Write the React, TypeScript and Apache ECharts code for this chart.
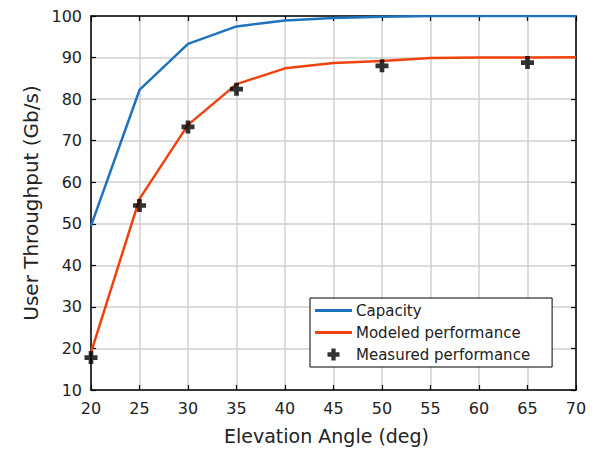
import React, { useEffect, useRef } from "react";
import * as echarts from "echarts";

const angles = [20, 25, 30, 35, 40, 45, 50, 55, 60, 65, 70];
const capacity = [49.5, 82.2, 93.3, 97.5, 98.9, 99.5, 99.8, 100, 100, 100, 100];
const modeled = [19.0, 56.0, 73.8, 83.6, 87.4, 88.7, 89.2, 89.9, 90.0, 90.0, 90.1];
const measuredAngles = [20, 25, 30, 35, 50, 65];
const measuredValues = [17.8, 54.4, 73.3, 82.4, 88.0, 88.8];

const plusPath =
  "path://M32,0 L68,0 L68,32 L100,32 L100,68 L68,68 L68,100 L32,100 L32,68 L0,68 L0,32 L32,32 Z";
const lineIcon = "path://M0,0 L37,0 L37,3 L0,3 Z";

const FONT = "DejaVu Sans, Arial, sans-serif";

export default function App() {
  const ref = useRef<HTMLDivElement>(null);
  useEffect(() => {
    if (!ref.current) return;
    const chart = echarts.init(ref.current, undefined, { renderer: "svg" });
    const txt = { color: "#222", fontFamily: FONT };
    chart.setOption({
      animation: false,
      backgroundColor: "#fff",
      textStyle: { fontFamily: FONT },
      grid: { left: 91, right: 17, top: 16, bottom: 57 },
      legend: {
        orient: "vertical",
        left: 310,
        top: 298,
        backgroundColor: "#fff",
        borderColor: "#000",
        borderWidth: 1,
        borderRadius: 0,
        padding: [5, 22, 5, 5],
        itemGap: 7,
        itemWidth: 37,
        itemHeight: 12,
        textStyle: { ...txt, fontSize: 15, padding: [0, 0, 0, -1] },
        data: [
          { name: "Capacity", icon: lineIcon, itemStyle: { color: "#1f72bd" } },
          { name: "Modeled performance", icon: lineIcon, itemStyle: { color: "#f0420f" } },
          { name: "Measured performance" },
        ],
      },
      xAxis: [
        {
          type: "value",
          min: 20,
          max: 70,
          interval: 5,
          name: "Elevation Angle (deg)",
          nameLocation: "middle",
          nameGap: 36,
          nameTextStyle: { ...txt, fontSize: 19, padding: [0, 14, 0, 0] },
          axisLine: { show: true, lineStyle: { color: "#000", width: 1.5 } },
          axisTick: { show: true, inside: true, length: 5, lineStyle: { color: "#000", width: 1.2 } },
          axisLabel: { ...txt, fontSize: 16, margin: 10 },
          splitLine: { show: true, lineStyle: { color: "#d0d0d0", width: 1.5 } },
        },
        {
          type: "value",
          position: "top",
          min: 20,
          max: 70,
          interval: 5,
          axisLine: { show: true, lineStyle: { color: "#000", width: 1.5 } },
          axisTick: { show: true, inside: true, length: 5, lineStyle: { color: "#000", width: 1.2 } },
          axisLabel: { show: false },
          splitLine: { show: false },
        },
      ],
      yAxis: [
        {
          type: "value",
          min: 10,
          max: 100,
          interval: 10,
          name: "User Throughput (Gb/s)",
          nameLocation: "middle",
          nameGap: 49,
          nameTextStyle: { ...txt, fontSize: 20 },
          axisLine: { show: true, lineStyle: { color: "#000", width: 1.5 } },
          axisTick: { show: true, inside: true, length: 5, lineStyle: { color: "#000", width: 1.2 } },
          axisLabel: { ...txt, fontSize: 16, margin: 9 },
          splitLine: { show: true, lineStyle: { color: "#d0d0d0", width: 1.5 } },
        },
        {
          type: "value",
          position: "right",
          min: 10,
          max: 100,
          interval: 10,
          axisLine: { show: true, lineStyle: { color: "#000", width: 1.5 } },
          axisTick: { show: true, inside: true, length: 5, lineStyle: { color: "#000", width: 1.2 } },
          axisLabel: { show: false },
          splitLine: { show: false },
        },
      ],
      series: [
        {
          name: "Capacity",
          type: "line",
          symbol: "none",
          color: "#1f72bd",
          lineStyle: { color: "#1f72bd", width: 2.5 },
          data: angles.map((a, i) => [a, capacity[i]]),
          z: 3,
        },
        {
          name: "Modeled performance",
          type: "line",
          symbol: "none",
          color: "#f0420f",
          lineStyle: { color: "#f0420f", width: 2.5 },
          data: angles.map((a, i) => [a, modeled[i]]),
          z: 3,
        },
        {
          name: "Measured performance",
          type: "scatter",
          symbol: plusPath,
          symbolSize: 13,
          itemStyle: { color: "#000" },
          data: measuredAngles.map((a, i) => [a, measuredValues[i]]),
          z: 4,
        },
      ],
    });
    return () => chart.dispose();
  }, []);
  return <div ref={ref} style={{ width: 593, height: 450, position: "absolute", left: 0, top: 0 }} />;
}
